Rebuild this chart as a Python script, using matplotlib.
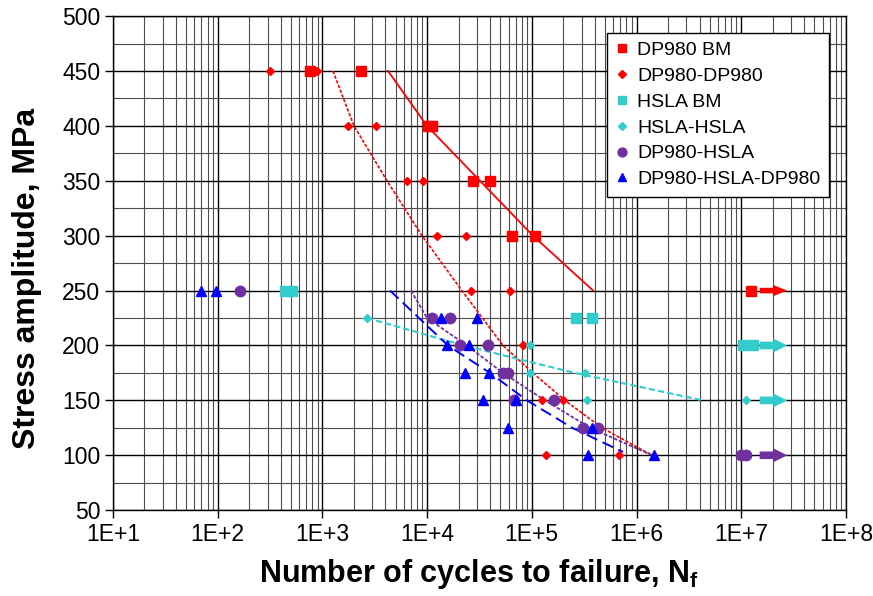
import numpy as np
import matplotlib.pyplot as plt
from matplotlib.ticker import LogLocator, MultipleLocator, NullFormatter

plt.rcParams['font.family'] = ['Liberation Sans', 'DejaVu Sans']
plt.rcParams['mathtext.fontset'] = 'custom'
plt.rcParams['mathtext.bf'] = 'Liberation Sans:bold'
plt.rcParams['mathtext.rm'] = 'Liberation Sans'

# Colores
RED = '#FF0000'
CYAN = '#33CCCC'
PURPLE = '#7030A0'
BLUE = '#0000FF'

# Pontos de ensaio (ciclos, tensao)
dp_bm_n = [762, 2340, 10200, 11100, 27400, 39800, 64700, 107000]
dp_bm_s = [450, 450, 400, 400, 350, 350, 300, 300]

dp_dp_n = [316, 887, 1766, 3230, 6430, 9140, 12400, 23500, 26200, 62000,
           82400, 124000, 197000, 136000, 681000]
dp_dp_s = [450, 450, 400, 400, 350, 350, 300, 300, 250, 250,
           200, 150, 150, 100, 100]

hsla_bm_n = [440, 513, 264000, 378000]
hsla_bm_s = [250, 250, 225, 225]

hsla_hsla_n = [2670, 95800, 95800, 322000, 339000]
hsla_hsla_s = [225, 200, 175, 175, 150]

dp_hsla_n = [164, 11070, 16560, 20600, 38400, 53100, 59300, 67600, 164000,
             310000, 431000]
dp_hsla_s = [250, 225, 225, 200, 200, 175, 175, 150, 150, 125, 125]

dhd_n = [70, 96, 13600, 29700, 15600, 25100, 23000, 39300, 34000, 70200,
         58900, 373000, 347000, 1480000]
dhd_s = [250, 250, 225, 225, 200, 200, 175, 175, 150, 150, 125, 125, 100, 100]

# Runouts (sem falha)
run_dp_bm_n, run_dp_bm_s = [1.24e7], [250]
run_hsla_bm_n, run_hsla_bm_s = [1.05e7, 1.29e7], [200, 200]
run_hsla_hsla_n, run_hsla_hsla_s = [1.11e7], [150]
run_dp_hsla_n, run_dp_hsla_s = [1.0e7, 1.1e7], [100, 100]

# Linhas de tendencia
fit_dp_bm_n = [4240, 9980, 32000, 102600, 385000]
fit_dp_bm_s = [450, 400, 350, 300, 250]
fit_dp_dp_n = [1262, 2005, 4140, 8940, 21500, 53100, 102600, 207000, 468000, 1410000]
fit_dp_dp_s = [450, 400, 350, 300, 250, 200, 175, 150, 125, 100]
fit_hsla_n = [2670, 22600, 96100, 258000, 4310000]
fit_hsla_s = [225, 200, 185, 175, 150]
fit_dhd_n = [4430, 15800, 39900, 89900, 243000, 743000]
fit_dhd_s = [250, 200, 175, 150, 125, 103]
fit_dp_hsla_n = [7020, 9980, 24000, 53100, 133700, 360000, 1410000]
fit_dp_hsla_s = [250, 225, 200, 175, 150, 125, 100]

fig = plt.figure(figsize=(8.73, 5.96), dpi=100)
ax = fig.add_axes([0.1294, 0.144, 0.8396, 0.829])

# Tendencias
ax.plot(fit_dp_bm_n, fit_dp_bm_s, color=RED, lw=1.3, zorder=3)
ax.plot(fit_dp_dp_n, fit_dp_dp_s, color=RED, lw=1.2, ls=(0, (2, 1)), zorder=3)
ax.plot(fit_hsla_n, fit_hsla_s, color=CYAN, lw=1.5, ls=(0, (3, 1.5)), zorder=3)
ax.plot(fit_dp_hsla_n, fit_dp_hsla_s, color=PURPLE, lw=1.3, ls=(0, (2, 1)), zorder=3)
ax.plot(fit_dhd_n, fit_dhd_s, color=BLUE, lw=1.4, ls=(0, (6, 3)), zorder=3)

# Pontos
ax.plot(dp_bm_n, dp_bm_s, 's', color=RED, ms=7.5, label='DP980 BM', zorder=5)
ax.plot(dp_dp_n, dp_dp_s, 'D', color=RED, ms=4.5, label='DP980-DP980', zorder=5)
ax.plot(hsla_bm_n, hsla_bm_s, 's', color=CYAN, ms=7.5, label='HSLA BM', zorder=5)
ax.plot(hsla_hsla_n, hsla_hsla_s, 'D', color=CYAN, ms=4.5, label='HSLA-HSLA', zorder=5)
ax.plot(dp_hsla_n, dp_hsla_s, 'o', color=PURPLE, ms=7.5, label='DP980-HSLA', zorder=5)
ax.plot(dhd_n, dhd_s, '^', color=BLUE, ms=6.5, label='DP980-HSLA-DP980', zorder=5)

ax.plot(run_dp_bm_n, run_dp_bm_s, 's', color=RED, ms=7.5, zorder=5)
ax.plot(run_hsla_bm_n, run_hsla_bm_s, 's', color=CYAN, ms=7.5, zorder=5)
ax.plot(run_hsla_hsla_n, run_hsla_hsla_s, 'D', color=CYAN, ms=4.5, zorder=5)
ax.plot(run_dp_hsla_n, run_dp_hsla_s, 'o', color=PURPLE, ms=7.5, zorder=5)

# Setas de runout
arrows = [(run_dp_bm_s, RED, 0.4, 0.8),
          (run_hsla_bm_s, CYAN, 0.55, 1.0),
          (run_hsla_hsla_s, CYAN, 0.55, 1.0),
          (run_dp_hsla_s, PURPLE, 0.55, 1.0)]
for s, c, tw, hw in arrows:
    ax.annotate('', xy=(2.75e7, s[0]), xytext=(1.5e7, s[0]),
                arrowprops=dict(arrowstyle=f'simple,head_length=1.0,head_width={hw},tail_width={tw}',
                                color=c, lw=0, shrinkA=0, shrinkB=0), zorder=5)

ax.set_xscale('log')
ax.set_xlim(10, 1e8)
ax.set_ylim(50, 500)

ax.xaxis.set_minor_locator(LogLocator(base=10, subs=np.arange(2, 10), numticks=100))
ax.xaxis.set_minor_formatter(NullFormatter())
ax.set_xticks([10 ** k for k in range(1, 9)])
ax.set_xticklabels([f'1E+{k}' for k in range(1, 9)])
ax.yaxis.set_major_locator(MultipleLocator(50))
ax.yaxis.set_minor_locator(MultipleLocator(25))

ax.grid(which='major', color='black', lw=1.0, zorder=0)
ax.grid(which='minor', color='0.3', lw=0.8, zorder=0)
ax.tick_params(which='major', length=6, width=1, labelsize=16.5, pad=3)
ax.tick_params(which='minor', length=0)
for sp in ax.spines.values():
    sp.set_color('black')
    sp.set_linewidth(1)

ax.set_ylabel('Stress amplitude, MPa', fontsize=23, fontweight='bold')
ax.yaxis.set_label_coords(-0.097, 0.47)
ax.set_xlabel(r'Number of cycles to failure, N$_\mathbf{f}$', fontsize=22,
              fontweight='bold', labelpad=8)

leg = ax.legend(loc='upper right', bbox_to_anchor=(0.977, 0.966), fontsize=14,
                frameon=True, fancybox=False, edgecolor='black', framealpha=1,
                handlelength=0.7, handletextpad=0.4, labelspacing=0.42,
                borderpad=0.45, borderaxespad=0, markerscale=0.85)
leg.get_frame().set_linewidth(1)
leg.set_zorder(10)

fig.savefig('out.png', dpi=100)
